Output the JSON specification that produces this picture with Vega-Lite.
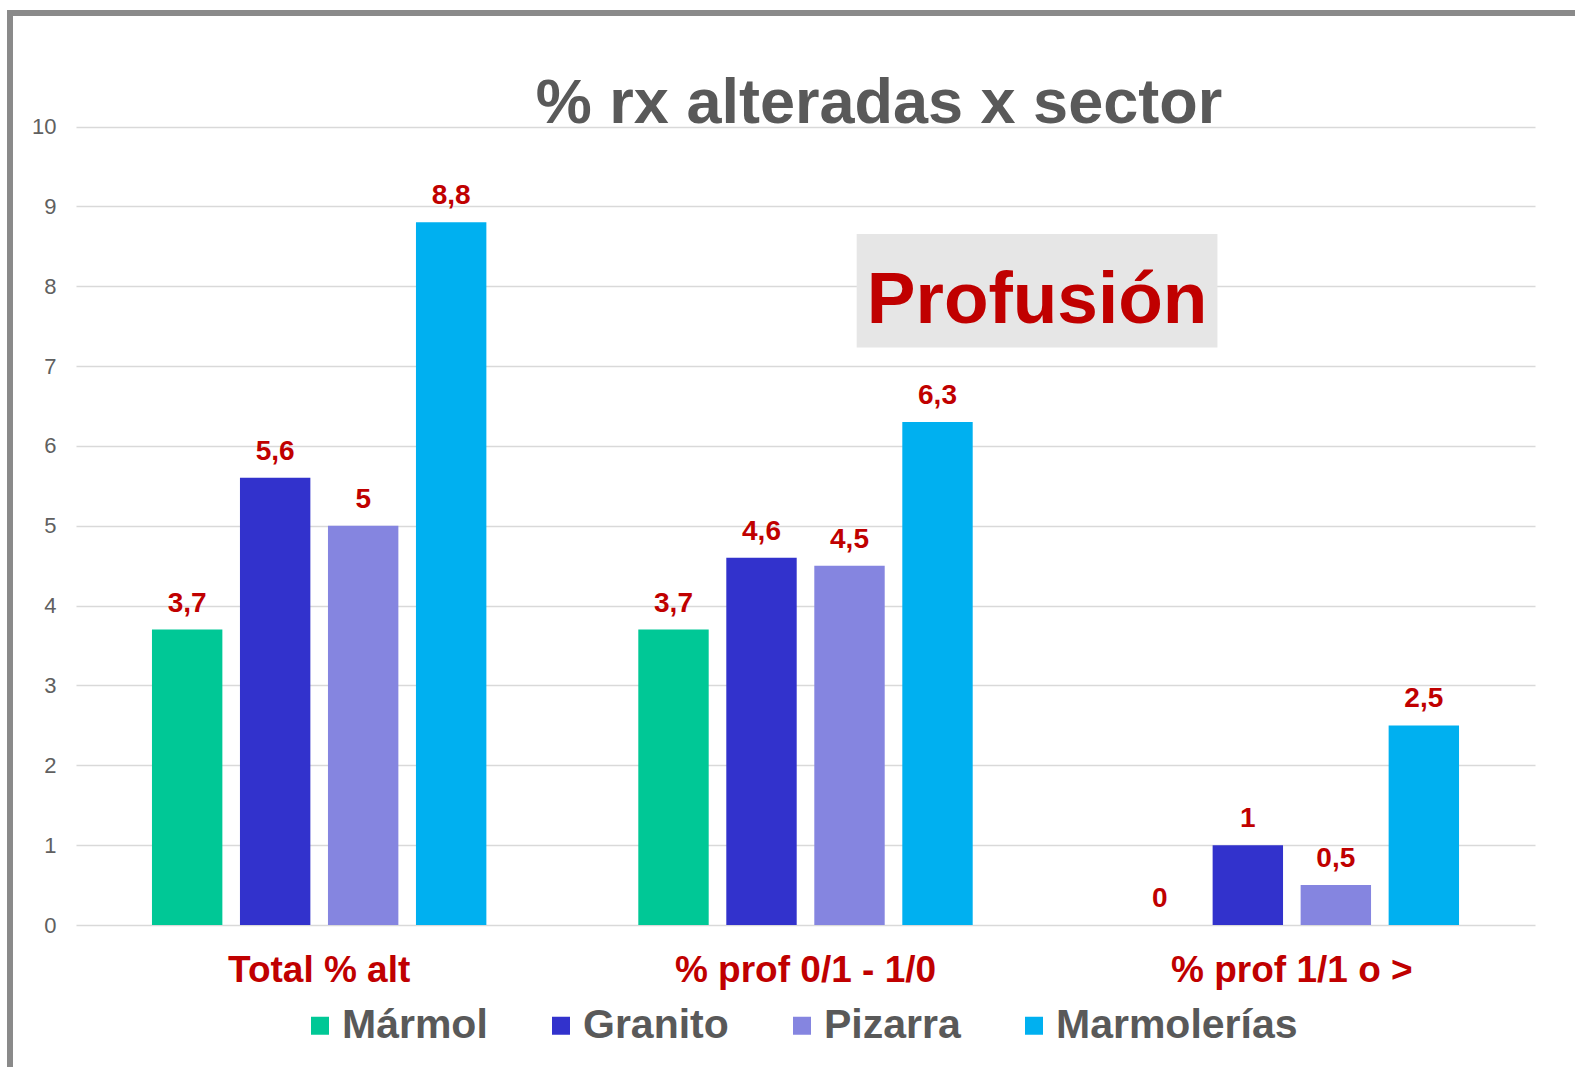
{
  "$schema": "https://vega.github.io/schema/vega-lite/v6.json",
  "width": 1570,
  "height": 1059,
  "autosize": {"type": "none"},
  "padding": {"left": 10, "top": 13, "right": -5, "bottom": -5},
  "background": "white",
  "title": {
    "text": "% rx alteradas x sector",
    "anchor": "middle",
    "frame": "group",
    "dx": 84,
    "offset": -123,
    "fontSize": 63,
    "font": "Liberation Sans",
    "fontWeight": "bold",
    "color": "#595959"
  },
  "config": {
    "view": {"stroke": "#8a8a8a", "strokeWidth": 6},
    "font": "Liberation Sans",
    "locale": {"number": {"decimal": ",", "thousands": ".", "grouping": [3], "currency": ["", " €"]}}
  },
  "data": {
    "values": [
      {"grupo": "Total % alt", "sector": "Mármol", "valor": 3.7},
      {"grupo": "Total % alt", "sector": "Granito", "valor": 5.6},
      {"grupo": "Total % alt", "sector": "Pizarra", "valor": 5},
      {"grupo": "Total % alt", "sector": "Marmolerías", "valor": 8.8},
      {"grupo": "% prof 0/1 - 1/0", "sector": "Mármol", "valor": 3.7},
      {"grupo": "% prof 0/1 - 1/0", "sector": "Granito", "valor": 4.6},
      {"grupo": "% prof 0/1 - 1/0", "sector": "Pizarra", "valor": 4.5},
      {"grupo": "% prof 0/1 - 1/0", "sector": "Marmolerías", "valor": 6.3},
      {"grupo": "% prof 1/1 o >", "sector": "Mármol", "valor": 0},
      {"grupo": "% prof 1/1 o >", "sector": "Granito", "valor": 1},
      {"grupo": "% prof 1/1 o >", "sector": "Pizarra", "valor": 0.5},
      {"grupo": "% prof 1/1 o >", "sector": "Marmolerías", "valor": 2.5}
    ]
  },
  "layer": [
    {
      "mark": {"type": "bar"},
      "encoding": {
        "x": {
          "field": "grupo", "type": "nominal",
          "scale": {"domain": ["Total % alt", "% prof 0/1 - 1/0", "% prof 1/1 o >"], "range": [66, 1525], "paddingInner": 0.3124, "paddingOuter": 0.1562},
          "axis": {"title": null, "orient": "bottom", "offset": -147, "labelAngle": 0, "labelFontSize": 37, "labelFontWeight": "bold", "labelColor": "#C00000", "labelFont": "Liberation Sans", "labelPadding": 56, "labelBaseline": "alphabetic", "labelLimit": 0, "domain": false, "ticks": false, "tickSize": 0, "grid": false}
        },
        "xOffset": {
          "field": "sector", "type": "nominal",
          "sort": ["Mármol", "Granito", "Pizarra", "Marmolerías"],
          "scale": {"paddingInner": 0.2, "paddingOuter": 0}
        },
        "y": {
          "field": "valor", "type": "quantitative",
          "scale": {"domain": [0, 10], "range": [912, 113.5], "nice": false},
          "axis": {"title": null, "offset": -46, "values": [0, 1, 2, 3, 4, 5, 6, 7, 8, 9, 10], "format": "d", "labelFontSize": 22, "labelColor": "#606060", "labelFont": "Liberation Sans", "labelPadding": 0, "ticks": false, "tickSize": 0, "domain": false, "grid": true, "gridColor": "#d9d9d9", "gridWidth": 1.5}
        },
        "color": {
          "field": "sector", "type": "nominal",
          "scale": {"domain": ["Mármol", "Granito", "Pizarra", "Marmolerías"], "range": ["#00C896", "#3232CC", "#8585E0", "#00B0F0"]},
          "legend": {"title": null, "orient": "none", "direction": "horizontal", "legendX": 289.5, "legendY": 992, "symbolType": "square", "symbolSize": 324, "symbolStrokeWidth": 0, "symbolOpacity": 1, "labelFontSize": 41, "labelFontWeight": "bold", "labelColor": "#595959", "labelFont": "Liberation Sans", "labelOffset": 1.5, "columnPadding": 52, "labelLimit": 0, "padding": 0}
        }
      }
    },
    {
      "data": {"values": [{"nota": "Profusión"}]},
      "mark": {"type": "rect", "color": "#e6e6e6"},
      "encoding": {
        "x": {"datum": "% prof 0/1 - 1/0", "type": "nominal", "bandPosition": 0.653, "axis": {"title": null}},
        "x2": {"datum": "% prof 1/1 o >", "bandPosition": 0.2775},
        "y": {"datum": 7.232, "type": "quantitative", "axis": {"title": null}},
        "y2": {"datum": 8.654}
      }
    },
    {
      "data": {"values": [{"nota": "Profusión"}]},
      "mark": {"type": "text", "fontSize": 73, "fontWeight": "bold", "color": "#C00000", "align": "center", "baseline": "alphabetic", "font": "Liberation Sans"},
      "encoding": {
        "x": {"datum": "% prof 0/1 - 1/0", "type": "nominal", "bandPosition": 1.1926, "axis": {"title": null}},
        "y": {"datum": 7.533, "type": "quantitative", "axis": {"title": null}},
        "text": {"field": "nota", "type": "nominal"}
      }
    },
    {
      "mark": {"type": "text", "dy": -18, "baseline": "alphabetic", "align": "center", "fontSize": 28, "fontWeight": "bold", "color": "#C00000", "font": "Liberation Sans"},
      "encoding": {
        "x": {"field": "grupo", "type": "nominal", "axis": {"title": null}},
        "xOffset": {"field": "sector", "type": "nominal", "sort": ["Mármol", "Granito", "Pizarra", "Marmolerías"]},
        "y": {"field": "valor", "type": "quantitative", "axis": {"title": null}},
        "text": {"field": "valor", "type": "quantitative", "format": "~g"}
      }
    }
  ]
}
